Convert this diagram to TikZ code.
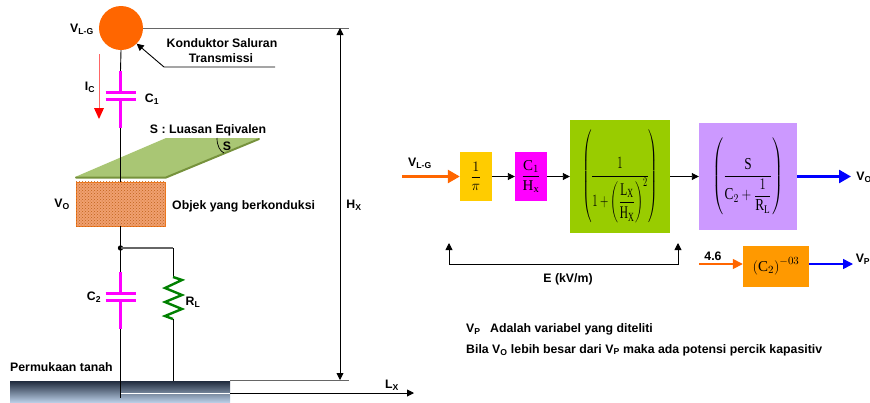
\documentclass[tikz,border=0pt]{standalone}
\usepackage{amsmath}
\usepackage{graphicx}
\usepackage{fontspec}
\setmainfont{Liberation Sans}
\setmathrm{Liberation Serif}
\usetikzlibrary{arrows.meta,patterns}
\definecolor{platefill}{HTML}{A9C674}
\definecolor{plateedge}{HTML}{76923C}
\definecolor{objfill}{HTML}{F0A070}
\definecolor{objedge}{HTML}{F07A20}
\definecolor{linegrey}{HTML}{666666}
\definecolor{groundtop}{HTML}{1F2A3C}
\definecolor{groundbot}{HTML}{B8CCE4}
\definecolor{capmag}{HTML}{FF00FF}
\definecolor{wireorange}{HTML}{FF6600}
\definecolor{boxyellow}{HTML}{FFCC00}
\definecolor{boxgreen}{HTML}{99CC00}
\definecolor{boxviolet}{HTML}{CC99FF}
\definecolor{boxorange}{HTML}{FF9900}
\definecolor{pureblue}{HTML}{0000FF}
\definecolor{resgreen}{HTML}{008000}
\tikzset{
  lbl/.style={inner sep=0pt,font=\fontsize{12.3}{14}\selectfont\bfseries},
  blok/.style={inner sep=0pt,font=\fontsize{15}{17}\selectfont},
  wire/.style={black,line width=.9pt},
  capline/.style={capmag,line width=2.2pt},
  arr/.style={wire,-{Triangle[length=7pt,width=7pt]}},
  fatarr/.style={line width=2.6pt,-{Triangle[length=12pt,width=13pt]}},
  midarr/.style={line width=1.5pt,-{Triangle[length=10pt,width=10pt]}}
}
\begin{document}
\begin{tikzpicture}[x=1pt,y=-1pt]
\useasboundingbox (0,0) rectangle (870,402);

% plate and object
\fill[platefill] (75,177) -- (166,138) -- (259,138) -- (166,177) -- cycle;
\draw[plateedge,line width=2pt,line cap=round] (76,177.5) -- (166,177.5) -- (259,139);
\draw[black,line width=.7pt] (217,138) .. controls (217,146) and (220,151) .. (224,153);
\node[lbl] (sarea) at (227,146) {S};
\node[lbl] (sname) at (208,130) {S : Luasan Eqivalen};
\node[draw=objedge,line width=.9pt,fill=objfill,minimum width=89,minimum height=44,inner sep=0pt] (obj) at (120.5,204) {};
\fill[pattern=crosshatch dots,pattern color=objedge!80!black] (obj.south west) rectangle (obj.north east);

% ground
\node[top color=groundtop,bottom color=groundbot,minimum width=220,minimum height=21,inner sep=0pt] (ground) at (120,391.5) {};
\coordinate (gc) at (120.5,381);
\coordinate (gr) at (173,381);
\coordinate (gtail) at (120.5,398);

% line and capacitors
\node[circle,fill=wireorange,minimum size=44,inner sep=0pt] (wirehead) at (121,28) {};
\coordinate (c1a) at (120.5,71);
\coordinate (c1b) at (120.5,92.5);
\coordinate (c1c) at (120.5,99.5);
\coordinate (c1d) at (120.5,128);
\coordinate (junc) at (120.5,248);
\coordinate (c2a) at (120.5,272);
\coordinate (c2b) at (120.5,293.5);
\coordinate (c2c) at (120.5,300.5);
\coordinate (c2d) at (120.5,329);
\draw[wire] (wirehead.south) -- (c1a);
\draw[wire] (c1d) -- (obj.north);
\draw[wire] (obj.south) -- (junc) -- (c2a);
\draw[wire] (c2d) -- (gc);
\draw[wire] (gc) -- (gtail);
\foreach \a/\b/\c/\d in {c1a/c1b/c1c/c1d,c2a/c2b/c2c/c2d}{
  \draw[capline] (\a) -- (\b);
  \draw[capline] (\c) -- (\d);
  \draw[capline] ([xshift=-15pt]\b) -- ([xshift=15pt]\b);
  \draw[capline] ([xshift=-15pt]\c) -- ([xshift=15pt]\c);
}
\fill[black] (junc) circle (2.7pt);

% load resistor
\coordinate (ra) at (173,248);
\coordinate (rb) at (173,277);
\coordinate (rc) at (173,319);
\draw[linegrey,line width=1.2pt] (junc) -- (ra);
\draw[wire] (ra) -- (rb);
\draw[wire] (rc) -- (gr);
\draw[resgreen,line width=2.4pt] (rb) -- (182,280) -- (165,288) -- (182,295) -- (165,302) -- (182,309) -- (165,316) -- (rc);

% current
\coordinate (ia) at (99,54);
\coordinate (ib) at (99,119);
\draw[red!60,line width=1pt] (ia) -- (99,108);
\fill[red] (94,108) -- (104,108) -- (ib) -- cycle;

% dimensions
\coordinate (ha) at (349,28);
\coordinate (hb) at (349,380);
\coordinate (hc) at (340,28);
\coordinate (hd) at (340,380);
\coordinate (gedge) at (230,380);
\coordinate (lxa) at (121,393);
\coordinate (lxb) at (230,393);
\coordinate (lxc) at (414,393);
\draw[linegrey,line width=1pt] (wirehead.east) -- (ha);
\draw[linegrey,line width=1pt] (gedge) -- (hb);
\draw[wire,{Triangle[length=7pt,width=7pt]}-{Triangle[length=7pt,width=7pt]}] (hc) -- (hd);
\draw[white,line width=.7pt] (lxa) -- (lxb);
\draw[arr] (lxb) -- (lxc);

% callout
\coordinate (ca) at (275,67);
\coordinate (cb) at (164,67);
\draw[arr] (ca) -- (cb) -- (wirehead.-45);

% labels left
\node[lbl] (vlg) at (82,29) {V\textsubscript{L-G}};
\node[lbl] (kond) at (222,43) {Konduktor Saluran};
\node[lbl] (trans) at (221,58) {Transmissi};
\node[lbl] (ic) at (90,87) {I\textsubscript{C}};
\node[lbl] (cone) at (152,99) {C\textsubscript{1}};
\node[lbl] (vo) at (62,204) {V\textsubscript{O}};
\node[lbl,anchor=west] (objname) at (172,206) {Objek yang berkonduksi};
\node[lbl] (ctwo) at (94,297) {C\textsubscript{2}};
\node[lbl] (rl) at (193,302) {R\textsubscript{L}};
\node[lbl,anchor=west] (perm) at (10,367) {Permukaan tanah};
\node[lbl] (hx) at (354,205) {H\textsubscript{X}};
\node[lbl] (lx) at (392,385) {L\textsubscript{X}};

% blocks
\node[blok,fill=boxyellow,minimum width=32,minimum height=49] (bpi) at (476,176.5) {$\dfrac{1}{\pi}$};
\node[blok,fill=capmag,minimum width=32,minimum height=49] (bcap) at (531,176.5) {$\dfrac{\mathrm{C}_1}{\mathrm{H}_\mathrm{x}}$};
\node[blok,fill=boxgreen,minimum width=100,minimum height=113] (bdist) at (620,176.5) {\resizebox*{76pt}{93pt}{$\left(\dfrac{1}{1+\left(\dfrac{\mathrm{L}_\mathrm{X}}{\mathrm{H}_\mathrm{X}}\right)^{2}}\right)$}};
\node[blok,fill=boxviolet,minimum width=98,minimum height=107] (bload) at (748,176.5) {\resizebox*{71pt}{77pt}{$\left(\dfrac{\mathrm{S}}{\mathrm{C}_2+\dfrac{1}{\mathrm{R}_\mathrm{L}}}\right)$}};
\node[blok,fill=boxorange,minimum width=66,minimum height=41] (bexp) at (776,266.5) {$\left(\mathrm{C}_2\right)^{-03}$};

\coordinate (vin) at (402,176.5);
\coordinate (vout) at (851,176.5);
\coordinate (pin) at (699,264);
\coordinate (pout) at (853,264);
\draw[fatarr,wireorange] (vin) -- (bpi.west);
\draw[arr] (bpi) -- (bcap);
\draw[arr] (bcap) -- (bdist);
\draw[arr] (bdist) -- (bload);
\draw[fatarr,pureblue] (bload.east) -- (vout);
\draw[midarr,wireorange] (pin) -- (bexp.west |- pin);
\draw[midarr,pureblue] (bexp.east |- pout) -- (pout);

% feedback
\coordinate (fa) at (449,243);
\coordinate (fb) at (449,264);
\coordinate (fc) at (678,264);
\coordinate (fd) at (678,243);
\draw[wire,{Triangle[length=7pt,width=7pt]}-{Triangle[length=7pt,width=7pt]}] (fa) -- (fb) -- (fc) -- (fd);

% labels right
\node[lbl] (vlgin) at (420,163) {V\textsubscript{L-G}};
\node[lbl] (vout1) at (864,177) {V\textsubscript{O}};
\node[lbl] (vp) at (863,259) {V\textsubscript{P}};
\node[lbl] (four) at (713,256) {4.6};
\node[lbl] (emax) at (568,279) {E (kV/m)};
\node[lbl,anchor=west] (note1a) at (466,329) {V\textsubscript{P}};
\node[lbl,anchor=west] (note1b) at (490,329) {Adalah variabel yang diteliti};
\node[lbl,anchor=west] (note2) at (466,350) {Bila V\textsubscript{O} lebih besar dari V\textsubscript{P} maka ada potensi percik kapasitiv};
\end{tikzpicture}
\end{document}
